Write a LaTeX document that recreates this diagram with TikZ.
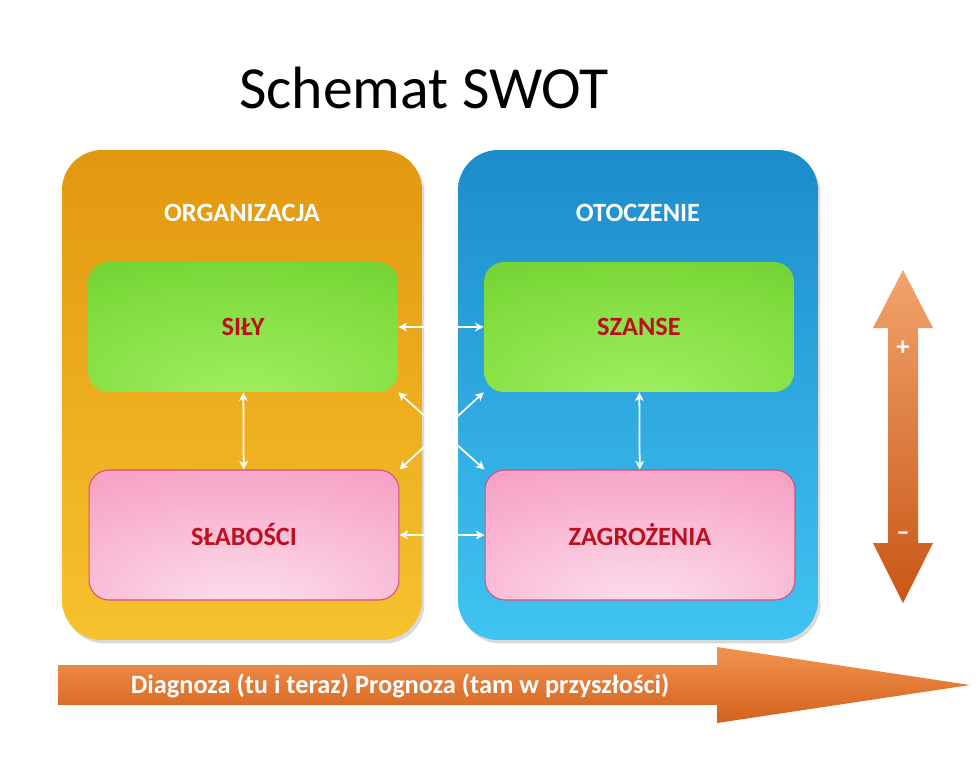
\documentclass[tikz,border=0pt]{standalone}
\usepackage{fontspec}
\setmainfont{Carlito}
\usetikzlibrary{arrows.meta,shadows}
\definecolor{orgtop}{HTML}{E2980F}
\definecolor{orgbot}{HTML}{F6C22E}
\definecolor{envtop}{HTML}{1C8CCB}
\definecolor{envbot}{HTML}{40C4F2}
\definecolor{goodin}{HTML}{A2F062}
\definecolor{goodmid}{HTML}{7EDB3C}
\definecolor{goodout}{HTML}{4FB41A}
\definecolor{badin}{HTML}{FCE2EE}
\definecolor{badmid}{HTML}{F8ACCC}
\definecolor{badout}{HTML}{F278A8}
\definecolor{badedge}{HTML}{D4507E}
\definecolor{swotred}{HTML}{BC1020}
\definecolor{arrtop}{HTML}{F2A46C}
\definecolor{arrbot}{HTML}{C85616}
\definecolor{timetop}{HTML}{F39250}
\definecolor{timebot}{HTML}{D2621C}
\pgfdeclareradialshading{goodglow}{\pgfpoint{0bp}{-30bp}}{color(0bp)=(goodin); color(35bp)=(goodmid); color(75bp)=(goodout)}
\pgfdeclareradialshading{badglow}{\pgfpoint{0bp}{-30bp}}{color(0bp)=(badin); color(35bp)=(badmid); color(75bp)=(badout)}
\begin{document}
\begin{tikzpicture}[x=0.02cm, y=-0.02cm,
  panel/.style={rounded corners=0.8cm, minimum width=7.2cm, minimum height=9.8cm,
                drop shadow={opacity=0.3, shadow xshift=0.05cm, shadow yshift=-0.07cm}},
  hdr/.style={font=\bfseries\fontsize{15}{17}\selectfont, text=white},
  field/.style={rounded corners=0.4cm, minimum width=6.2cm, minimum height=2.6cm,
                font=\bfseries\fontsize{15}{17}\selectfont, text=swotred},
  good/.style={field, shading=goodglow},
  bad/.style={field, shading=badglow, draw=badedge, line width=0.6pt},
  link/.style={{Stealth[length=5pt,width=5pt]}-{Stealth[length=5pt,width=5pt]}, draw=white, line width=1pt},
  note/.style={font=\bfseries\fontsize{15}{17}\selectfont, text=white},
]
\useasboundingbox (0,0) rectangle (978,769);
\node[font=\fontsize{34}{40}\selectfont] (ttl) at (424,88) {Schemat SWOT};
% panels
\node[panel, top color=orgtop, bottom color=orgbot] (org) at (242,395) {};
\node[panel, top color=envtop, bottom color=envbot] (env) at (638,395) {};
\node[hdr] (orgh) at (242,213) {ORGANIZACJA};
\node[hdr] (envh) at (638,213) {OTOCZENIE};
% fields
\node[good] (sily) at (243,327) {SIŁY};
\node[good] (szanse) at (639,327) {SZANSE};
\node[bad] (slabosci) at (244,535) {SŁABOŚCI};
\node[bad] (zagrozenia) at (640,535) {ZAGROŻENIA};
\draw[link] (sily) -- (szanse);
\draw[link] (slabosci) -- (zagrozenia);
\draw[link] (sily) -- (slabosci);
\draw[link] (szanse) -- (zagrozenia);
\draw[link] (sily.south east) -- (zagrozenia.north west);
\draw[link] (szanse.south west) -- (slabosci.north east);
% plus / minus arrow
\shade[top color=arrtop, bottom color=arrbot]
  (903,270) -- (933,328) -- (918,328) -- (918,543) -- (933,543) -- (903,603)
  -- (873,543) -- (888,543) -- (888,328) -- (873,328) -- cycle;
\node[note] (plus) at (903,348) {+};
\node[note] (minus) at (903,536) {–};
% time arrow
\shade[top color=timetop, bottom color=timebot]
  (58,665) -- (717,665) -- (717,647) -- (970,685) -- (717,723) -- (717,705)
  -- (58,705) -- cycle;
\node[note] (diag) at (400,686) {Diagnoza (tu i teraz) Prognoza (tam w przyszłości)};
\end{tikzpicture}
\end{document}
